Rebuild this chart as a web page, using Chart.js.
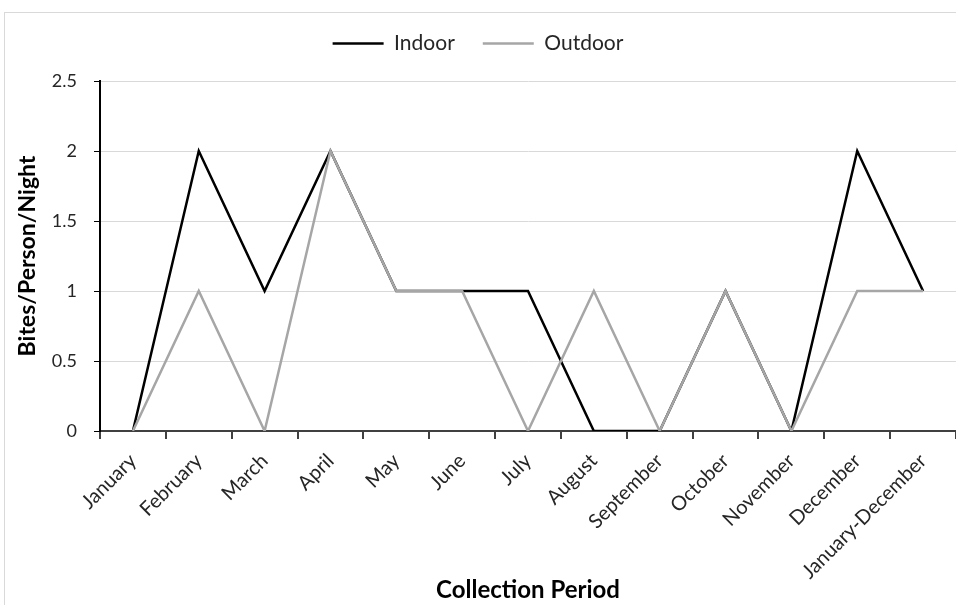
<!DOCTYPE html>
<html>
<head>
<meta charset="utf-8">
<script src="https://cdn.jsdelivr.net/npm/chart.js@4.4.0/dist/chart.umd.min.js"></script>
<style>
    html, body { margin: 0; padding: 0; background: #fff; overflow: hidden; }
    #wrap { position: relative; width: 956px; height: 605px; }
    #frame { position: absolute; left: 4px; top: 12px; width: 980px; height: 620px; border: 1px solid #d9d9d9; }
    #grafico { position: absolute; left: 0; top: 0; }
</style>
</head>
<body>
<div id="wrap">
    <div id="frame"></div>
    <canvas id="grafico" width="956" height="605"></canvas>
</div>
<script>
const periodos = ['January', 'February', 'March', 'April', 'May', 'June', 'July', 'August',
    'September', 'October', 'November', 'December', 'January-December'];
const indoor = [0, 2, 1, 2, 1, 1, 1, 0, 0, 1, 0, 2, 1];
const outdoor = [0, 1, 0, 2, 1, 1, 0, 1, 0, 1, 0, 1, 1];
const yTicks = [0, 0.5, 1, 1.5, 2, 2.5];

// espaço extra abaixo da legenda
const legendaExtra = {
    id: 'legendaExtra',
    beforeInit: function (chart) {
        const fitOriginal = chart.legend.fit;
        chart.legend.fit = function () {
            fitOriginal.bind(chart.legend)();
            this.height += 17;
        };
    }
};

document.addEventListener('DOMContentLoaded', function () {
    const ctx = document.getElementById('grafico').getContext('2d');
    const fonte = 'Lato, "Open Sans", sans-serif';

    new Chart(ctx, {
        type: 'line',
        data: {
            labels: periodos,
            datasets: [
                // Outdoor fica por cima (order menor)
                { label: 'Indoor', data: indoor, order: 1, borderColor: '#000000', backgroundColor: '#000000', borderWidth: 2.5, pointRadius: 0, tension: 0 },
                { label: 'Outdoor', data: outdoor, order: 0, borderColor: '#a6a6a6', backgroundColor: '#a6a6a6', borderWidth: 2.5, pointRadius: 0, tension: 0 }
            ]
        },
        options: {
            responsive: false,
            animation: false,
            layout: { padding: { top: 5, right: 0, bottom: 0, left: 0 } },
            plugins: {
                tooltip: { enabled: false },
                legend: {
                    position: 'top',
                    labels: {
                        usePointStyle: true,
                        pointStyle: 'line',
                        pointStyleWidth: 51,
                        padding: 28,
                        color: '#262626',
                        font: { family: fonte, size: 21 },
                        sort: (a, b) => a.datasetIndex - b.datasetIndex
                    }
                }
            },
            scales: {
                x: {
                    offset: true,
                    afterFit: function (scale) { scale.height = 174; },
                    grid: { offset: true, drawOnChartArea: false, tickLength: 8, tickColor: '#404040', lineWidth: 2 },
                    border: { color: '#404040', width: 2 },
                    ticks: {
                        minRotation: 45, maxRotation: 45, autoSkip: false, padding: 10,
                        color: '#262626', font: { family: fonte, size: 20 }
                    },
                    title: {
                        display: true, text: 'Collection Period', color: '#000',
                        padding: { top: 0, bottom: 0 },
                        font: { family: fonte, size: 24, weight: 'bold' }
                    }
                },
                y: {
                    min: 0, max: 2.5,
                    afterFit: function (scale) { scale.width = 100; },
                    afterBuildTicks: function (scale) { scale.ticks = yTicks.map(v => ({ value: v })); },
                    grid: { color: '#d9d9d9', lineWidth: 1, tickLength: 6, tickColor: '#000' },
                    border: { color: '#000', width: 2 },
                    ticks: {
                        padding: 17, color: '#262626',
                        font: { family: fonte, size: 18 },
                        callback: function (v) { return String(v); }
                    },
                    title: {
                        display: true, text: 'Bites/Person/Night', color: '#000',
                        padding: { top: 14, bottom: 0 },
                        font: { family: fonte, size: 23, weight: 'bold' }
                    }
                }
            }
        },
        plugins: [legendaExtra]
    });
});
</script>
</body>
</html>
